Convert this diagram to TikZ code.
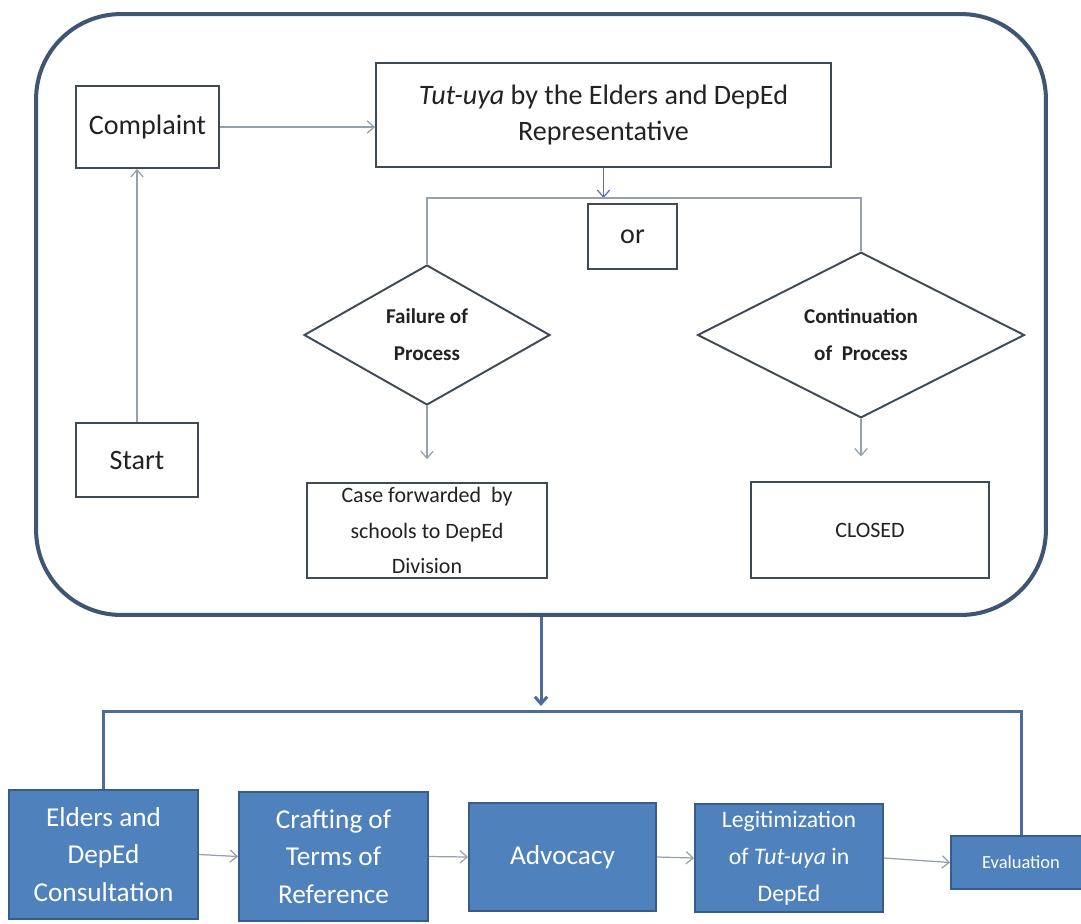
\documentclass[tikz,border=0pt]{standalone}
\usepackage{fontspec}
\setmainfont{Carlito}
\usetikzlibrary{shapes.geometric,arrows.meta}

\definecolor{framecol}{RGB}{62,85,115}
\definecolor{boxline}{RGB}{64,74,85}
\definecolor{linkgray}{RGB}{150,160,172}
\definecolor{bluefill}{RGB}{79,129,189}
\definecolor{blueline}{RGB}{56,93,138}
\definecolor{joinline}{RGB}{77,108,153}
\definecolor{textcol}{RGB}{34,34,34}

\tikzset{
  box/.style={draw=boxline,line width=1.1pt,fill=white,text=textcol,align=center,inner sep=0pt,
    font=\fontsize{16}{20.5}\selectfont},
  smallbox/.style={box,font=\fontsize{12.5}{20}\selectfont},
  decision/.style={diamond,draw=boxline,line width=1.1pt,fill=white,text=textcol,align=center,
    inner sep=0pt,font=\bfseries\fontsize{12}{21}\selectfont},
  bluebox/.style={draw=blueline,line width=1.1pt,fill=bluefill,text=white,align=center,inner sep=0pt,
    font=\fontsize{15.5}{21.5}\selectfont},
  link/.style={draw=linkgray,line width=0.7pt},
  joinlink/.style={draw=joinline,line width=1.7pt}
}

\begin{document}
\begin{tikzpicture}[x=0.02cm,y=-0.02cm,>={Straight Barb[length=4pt,width=7pt]}]
      \useasboundingbox[fill=white] (0,0) rectangle (1081,923);
      \node[draw=framecol,line width=2.3pt,rounded corners=1.7cm,minimum width=20.2cm,minimum height=12.02cm]
        (frame) at (541,314.5) {};
      \draw
        (147.5,127) node[box,minimum width=2.86cm,minimum height=1.64cm] (complaint){Complaint}
        (603.5,115) node[box,minimum width=9.1cm,minimum height=2.08cm] (tut){\textit{Tut-uya} by the Elders and DepEd\\Representative}
        (632.5,236.5) node[box,minimum width=1.78cm,minimum height=1.3cm] (or){or}
        (137,460) node[box,minimum width=2.44cm,minimum height=1.48cm] (start){Start}
        (427,335) node[decision,minimum width=4.92cm,minimum height=2.8cm] (fail){Failure of\\Process}
        (861,335) node[decision,minimum width=6.54cm,minimum height=2.66cm] (cont){Continuation\\of~ Process}
        (427,530.5) node[smallbox,minimum width=4.8cm,minimum height=1.9cm] (case){Case forwarded~ by\\schools to DepEd\\Division}
        (870,530) node[smallbox,minimum width=4.76cm,minimum height=1.92cm] (closed){CLOSED}
        (103.5,854.5) node[bluebox,minimum width=3.78cm,minimum height=2.58cm] (elders){Elders and\\DepEd\\Consultation}
        (333.5,856.5) node[bluebox,minimum width=3.78cm,minimum height=2.58cm] (crafting){Crafting of\\Terms of\\Reference}
        (562.5,857) node[bluebox,minimum width=3.74cm,minimum height=2.16cm] (advocacy){Advocacy}
        (789,858) node[bluebox,minimum width=3.76cm,minimum height=2.16cm,font=\fontsize{13.5}{21}\selectfont] (legit){Legitimization\\of \textit{Tut-uya} in\\DepEd}
        (1021,862.5) node[bluebox,minimum width=2.8cm,minimum height=1.06cm,font=\fontsize{10.5}{12}\selectfont] (eval){Evaluation};
      \coordinate (split) at (603.5,198);
      \coordinate (merge) at (541,711);
      \begin{scope}[link]
        \draw[->] (start.north) -- (start.north |- complaint.south);
        \draw[->] (complaint.east) -- (tut.west |- complaint.east);
        \draw[->,draw=blue!35!linkgray] (tut.south) -- (split);
        \draw (fail.north) |- (split) -| (cont.north);
        \draw[->,shorten >=13pt] (fail.south) -- (case.north);
        \draw[->,shorten >=14pt] (cont.south) -- (cont.south |- closed.north);
        \draw[->] (elders.east) -- (crafting.west);
        \draw[->] (crafting.east) -- (advocacy.west);
        \draw[->] (advocacy.east) -- (legit.west);
        \draw[->] (legit.east) -- (eval.west);
      \end{scope}
      \begin{scope}[joinlink]
        \draw[->] (frame.south) -- ([yshift=0.1cm]merge);
        \draw (elders.north) |- (merge) -| (eval.north);
      \end{scope}
    \end{tikzpicture}
\end{document}
